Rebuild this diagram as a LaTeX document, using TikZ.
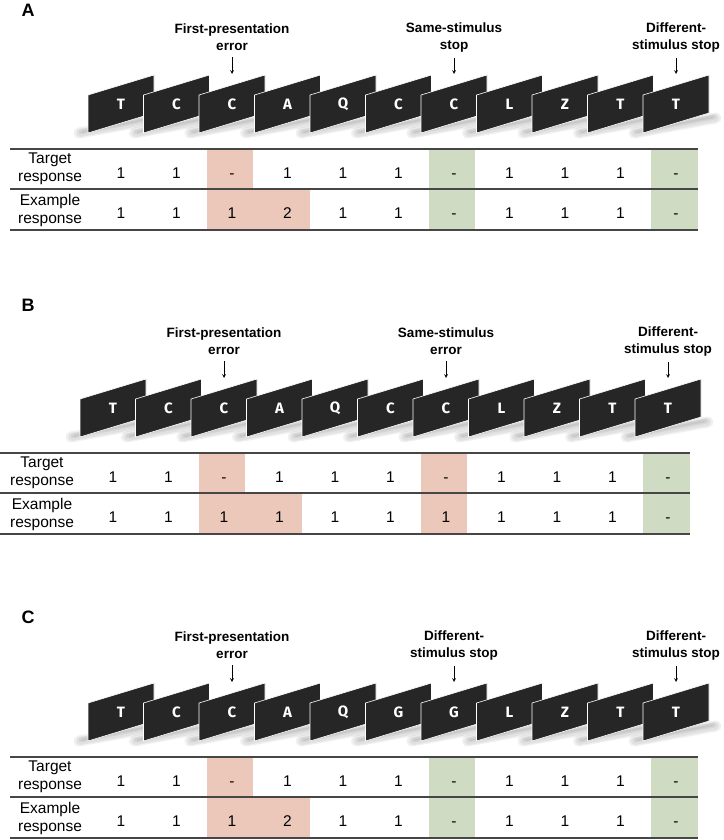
\documentclass[tikz,border=0pt]{standalone}
\usepackage{fontspec}
\setmainfont{Liberation Sans}
\newfontfamily\cardfont{Fira Sans}
\usetikzlibrary{calc}
\definecolor{cardgray}{RGB}{38,38,38}
\definecolor{errpink}{RGB}{236,200,187}
\definecolor{stopgreen}{RGB}{208,219,196}
\definecolor{rulegray}{RGB}{70,70,70}

\begin{document}
\begin{tikzpicture}[x=1pt,y=-1pt,
  declare function={cx(\k)=121+55.5*(\k-1);},
  card/.style={fill=cardgray,draw=white,line width=.6pt,line join=round},
  cardtxt/.style={text=white,font=\cardfont\bfseries\fontsize{15}{15}\selectfont},
  blur/.style={draw=black,line cap=round,opacity=.06},
  cue/.style={font=\bfseries\fontsize{13.5}{17}\selectfont,align=center,inner sep=1pt},
  rowlbl/.style={font=\fontsize{15.5}{18}\selectfont,align=center},
  val/.style={font=\fontsize{15.5}{18}\selectfont,anchor=base},
  rule/.style={draw=rulegray,line width=1.1pt},
  pointer/.style={->,>=stealth,line width=.7pt,shorten <=5pt},
  err/.style={fill=errpink},
  stopc/.style={fill=stopgreen},
  panel/.style={font=\bfseries\fontsize{18}{18}\selectfont}]
\useasboundingbox (0,0) rectangle (723,840);

\node[panel] (labA) at (28,10) {A};
\begin{scope}
\foreach \i in {1,...,11}{
  \draw[blur,line width=11pt] ({cx(\i)-42},133) -- ({cx(\i)+40},118);
  \draw[blur,line width=8pt] ({cx(\i)-41},133) -- ({cx(\i)+39},118);
  \draw[blur,line width=5pt] ({cx(\i)-40},132) -- ({cx(\i)+38},117);
  \draw[blur,line width=2pt] ({cx(\i)-39},132) -- ({cx(\i)+37},117);}
\foreach \ltr [count=\i] in {T,C,C,A,Q,C,C,L,Z,T,T}{
  \filldraw[card] ({cx(\i)-33},133) -- ++(0,-38) -- ++(66,-20) -- ++(0,38) -- cycle;
  \node[cardtxt] (a\i) at ({cx(\i)},104) {\ltr};
  \coordinate (ta\i) at ({cx(\i)},74);}
\node[cue] (aFP) at ({cx(3)},37.5) {First-presentation\\error};
\node[cue] (aSS) at ({cx(7)},37.5) {Same-stimulus\\stop};
\node[cue] (aDS) at ({cx(11)},37.5) {Different-\\stimulus stop};
\draw[pointer] (aFP.south) -- (ta3);
\draw[pointer] (aSS.south) -- (ta7);
\draw[pointer] (aDS.south) -- (ta11);
\fill[err] ({cx(3)-25},149) rectangle ({cx(3)+21},189);
\fill[err] ({cx(3)-25},189) rectangle ({cx(4)+22},230);
\fill[stopc] ({cx(7)-25},149) rectangle ({cx(7)+21},230);
\fill[stopc] ({cx(11)-25},149) rectangle ({cx(11)+22},230);
\foreach \y in {149,189,230} \draw[rule] (10,\y) -- (698,\y);
\node[rowlbl] (aT) at (50,169) {Target\\response};
\node[rowlbl] (aE) at (50,210) {Example\\response};
\foreach \v [count=\i] in {1,1,-,1,1,1,-,1,1,1,-} \node[val] (aT\i) at ({cx(\i)},178) {\v};
\foreach \v [count=\i] in {1,1,1,2,1,1,-,1,1,1,-} \node[val] (aE\i) at ({cx(\i)},218) {\v};
\end{scope}

\node[panel] (labB) at (28,305) {B};
\begin{scope}[shift={(-8,304)}]
\foreach \i in {1,...,11}{
  \draw[blur,line width=11pt] ({cx(\i)-42},133) -- ({cx(\i)+40},118);
  \draw[blur,line width=8pt] ({cx(\i)-41},133) -- ({cx(\i)+39},118);
  \draw[blur,line width=5pt] ({cx(\i)-40},132) -- ({cx(\i)+38},117);
  \draw[blur,line width=2pt] ({cx(\i)-39},132) -- ({cx(\i)+37},117);}
\foreach \ltr [count=\i] in {T,C,C,A,Q,C,C,L,Z,T,T}{
  \filldraw[card] ({cx(\i)-33},133) -- ++(0,-38) -- ++(66,-20) -- ++(0,38) -- cycle;
  \node[cardtxt] (b\i) at ({cx(\i)},104) {\ltr};
  \coordinate (tb\i) at ({cx(\i)},74);}
\node[cue] (bFP) at ({cx(3)},37.5) {First-presentation\\error};
\node[cue] (bSE) at ({cx(7)},37.5) {Same-stimulus\\error};
\node[cue] (bDS) at ({cx(11)},37.5) {Different-\\stimulus stop};
\draw[pointer] (bFP.south) -- (tb3);
\draw[pointer] (bSE.south) -- (tb7);
\draw[pointer] (bDS.south) -- (tb11);
\fill[err] ({cx(3)-25},149) rectangle ({cx(3)+21},189);
\fill[err] ({cx(3)-25},189) rectangle ({cx(4)+22},230);
\fill[err] ({cx(7)-25},149) rectangle ({cx(7)+21},230);
\fill[stopc] ({cx(11)-25},149) rectangle ({cx(11)+22},230);
\foreach \y in {149,189,230} \draw[rule] (8,\y) -- (698,\y);
\node[rowlbl] (bT) at (50,169) {Target\\response};
\node[rowlbl] (bE) at (50,210) {Example\\response};
\foreach \v [count=\i] in {1,1,-,1,1,1,-,1,1,1,-} \node[val] (bT\i) at ({cx(\i)},178) {\v};
\foreach \v [count=\i] in {1,1,1,1,1,1,1,1,1,1,-} \node[val] (bE\i) at ({cx(\i)},218) {\v};
\end{scope}

\node[panel] (labC) at (28,617) {C};
\begin{scope}[shift={(0,608)}]
\foreach \i in {1,...,11}{
  \draw[blur,line width=11pt] ({cx(\i)-42},133) -- ({cx(\i)+40},118);
  \draw[blur,line width=8pt] ({cx(\i)-41},133) -- ({cx(\i)+39},118);
  \draw[blur,line width=5pt] ({cx(\i)-40},132) -- ({cx(\i)+38},117);
  \draw[blur,line width=2pt] ({cx(\i)-39},132) -- ({cx(\i)+37},117);}
\foreach \ltr [count=\i] in {T,C,C,A,Q,G,G,L,Z,T,T}{
  \filldraw[card] ({cx(\i)-33},133) -- ++(0,-38) -- ++(66,-20) -- ++(0,38) -- cycle;
  \node[cardtxt] (c\i) at ({cx(\i)},104) {\ltr};
  \coordinate (tc\i) at ({cx(\i)},74);}
\node[cue] (cFP) at ({cx(3)},37.5) {First-presentation\\error};
\node[cue] (cDS) at ({cx(7)},37.5) {Different-\\stimulus stop};
\node[cue] (cDT) at ({cx(11)},37.5) {Different-\\stimulus stop};
\draw[pointer] (cFP.south) -- (tc3);
\draw[pointer] (cDS.south) -- (tc7);
\draw[pointer] (cDT.south) -- (tc11);
\fill[err] ({cx(3)-25},149) rectangle ({cx(3)+21},189);
\fill[err] ({cx(3)-25},189) rectangle ({cx(4)+22},230);
\fill[stopc] ({cx(7)-25},149) rectangle ({cx(7)+21},230);
\fill[stopc] ({cx(11)-25},149) rectangle ({cx(11)+22},230);
\foreach \y in {149,189,230} \draw[rule] (10,\y) -- (698,\y);
\node[rowlbl] (cT) at (50,169) {Target\\response};
\node[rowlbl] (cE) at (50,210) {Example\\response};
\foreach \v [count=\i] in {1,1,-,1,1,1,-,1,1,1,-} \node[val] (cT\i) at ({cx(\i)},178) {\v};
\foreach \v [count=\i] in {1,1,1,2,1,1,-,1,1,1,-} \node[val] (cE\i) at ({cx(\i)},218) {\v};
\end{scope}
\end{tikzpicture}
\end{document}
